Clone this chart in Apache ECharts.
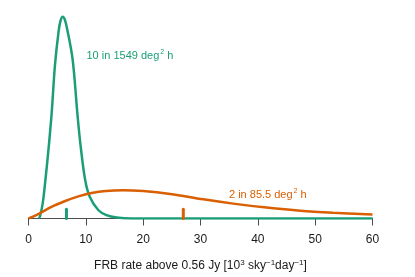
<!DOCTYPE html>
<html>
<head>
<meta charset="utf-8">
<script src="https://cdn.jsdelivr.net/npm/echarts@6/dist/echarts.min.js"></script>
<style>
html,body{margin:0;padding:0;background:#fff;}
#c{width:415px;height:277px;}
</style>
</head>
<body>
<div id="c"></div>
<script>
// x positions (10^3 sky^-1 day^-1) and densities
var greenX = [1.8, 2.0, 2.47, 2.94, 3.52, 4.05, 4.62, 5.26, 5.6, 5.96, 6.35, 6.77, 7.7, 8.55, 9.1, 9.9, 10.7, 12.2, 13.6, 15.4, 18, 60];
var greenY = [0, 0.0021, 0.0157, 0.0401, 0.0751, 0.1120, 0.1620, 0.1980, 0.2090, 0.2130, 0.2095, 0.1991, 0.1676, 0.1090, 0.0760, 0.0401, 0.0227, 0.0087, 0.0035, 0.0010, 0, 0];
var orangeX = [0, 1.7, 4.0, 6.4, 8.7, 11.0, 13.5, 16.5, 20.0, 24.7, 30.5, 35.7, 41.5, 47.4, 53.1, 60];
var orangeY = [0, 0.0045, 0.0123, 0.0185, 0.0234, 0.0269, 0.0291, 0.0299, 0.0290, 0.0259, 0.0202, 0.0157, 0.0115, 0.0081, 0.0060, 0.0042];
var greenMarkX = 6.62;
var orangeMarkX = 27.0;
var markHeight = 0.0097;
var xTicks = [0, 10, 20, 30, 40, 50, 60];
var greenLabel = ['10 in 1549 deg', '2', ' h'];
var orangeLabel = ['2 in 85.5 deg', '2', ' h'];

var GREEN = '#1b9e77', ORANGE = '#d95f02';
var FONT = '"Liberation Sans", Arial, Helvetica, sans-serif';

function pairs(xs, ys) { return xs.map(function (x, i) { return [x, ys[i]]; }); }

var chart = echarts.init(document.getElementById('c'), null, {renderer: 'canvas'});
var supRich = {
  a: {fontSize: 11, fontFamily: FONT, lineHeight: 14},
  s: {fontSize: 7, fontFamily: FONT, lineHeight: 14, verticalAlign: 'top', padding: [0, 0, 0, 1]}
};
function richText(parts) { return '{a|' + parts[0] + '}{s|' + parts[1] + '}{a|' + parts[2] + '}'; }

chart.setOption({
  animation: false,
  backgroundColor: '#fff',
  grid: {left: 28.5, right: 42.5, top: 10, bottom: 57},
  xAxis: {
    type: 'value', min: xTicks[0], max: xTicks[xTicks.length - 1], interval: 10,
    splitLine: {show: false},
    axisLine: {show: true, onZero: false, lineStyle: {color: '#4d4d4d', width: 1}},
    axisTick: {show: true, length: 7, lineStyle: {color: '#4d4d4d', width: 1}},
    axisLabel: {color: '#1a1a1a', fontSize: 12, fontFamily: FONT, margin: 15},
    name: '{a|FRB rate above 0.56 Jy [10}{s|3}{a| sky}{s|\u22121}{a|day}{s|\u22121}{a|]}',
    nameLocation: 'middle', nameGap: 40,
    nameTextStyle: {
      color: '#1a1a1a',
      rich: {
        a: {fontSize: 12, fontFamily: FONT, lineHeight: 15, color: '#1a1a1a'},
        s: {fontSize: 8, fontFamily: FONT, lineHeight: 15, verticalAlign: 'top', color: '#1a1a1a'}
      }
    }
  },
  yAxis: {type: 'value', min: 0, max: 0.22, show: false, splitLine: {show: false}},
  series: [
    {type: 'line', data: pairs(greenX, greenY), smooth: 0.35, showSymbol: false, symbol: 'none',
     lineStyle: {color: GREEN, width: 2.5}, z: 3},
    {type: 'line', data: pairs(orangeX, orangeY), smooth: 0.35, showSymbol: false, symbol: 'none',
     lineStyle: {color: ORANGE, width: 2.5}, z: 4},
    {type: 'line', data: [[greenMarkX, 0], [greenMarkX, markHeight]], showSymbol: false, symbol: 'none',
     lineStyle: {color: GREEN, width: 3, cap: 'round'}, z: 5},
    {type: 'line', data: [[orangeMarkX, 0], [orangeMarkX, markHeight]], showSymbol: false, symbol: 'none',
     lineStyle: {color: ORANGE, width: 3, cap: 'round'}, z: 5}
  ],
  graphic: [
    {type: 'text', left: 86.5, top: 48.5, z: 10,
     style: {text: richText(greenLabel), fill: GREEN, rich: {
       a: Object.assign({}, supRich.a, {fill: GREEN}), s: Object.assign({}, supRich.s, {fill: GREEN})}}},
    {type: 'text', left: 229, top: 188, z: 10,
     style: {text: richText(orangeLabel), fill: ORANGE, rich: {
       a: Object.assign({}, supRich.a, {fill: ORANGE}), s: Object.assign({}, supRich.s, {fill: ORANGE})}}}
  ]
});
</script>
</body>
</html>
